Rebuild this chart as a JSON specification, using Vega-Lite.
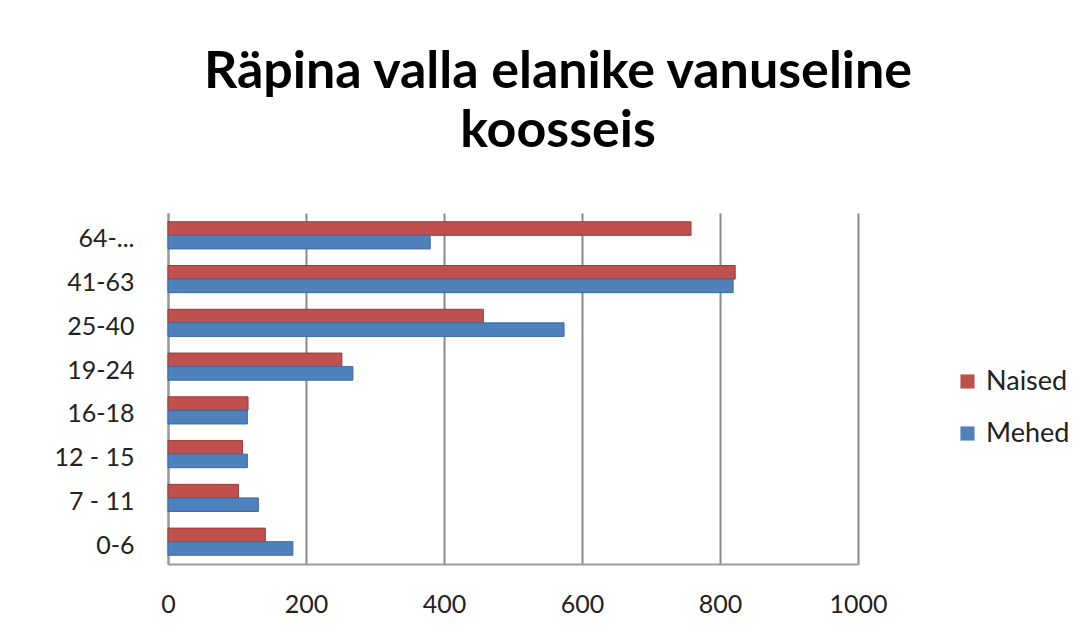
{
  "$schema": "https://vega.github.io/schema/vega-lite/v6.json",
  "autosize": "none",
  "width": 690,
  "height": 351,
  "padding": {"left": 168, "top": 213, "right": 229, "bottom": 73},
  "background": "white",
  "title": {
    "text": ["Räpina valla elanike vanuseline", "koosseis"],
    "font": "Lato",
    "fontSize": 52,
    "fontWeight": "bold",
    "color": "#000000",
    "lineHeight": 59,
    "anchor": "middle",
    "dx": 45,
    "offset": 55
  },
  "data": {
    "values": [
      {"vanus": "64-...", "sugu": "Naised", "arv": 758},
      {"vanus": "64-...", "sugu": "Mehed", "arv": 380},
      {"vanus": "41-63", "sugu": "Naised", "arv": 822},
      {"vanus": "41-63", "sugu": "Mehed", "arv": 819},
      {"vanus": "25-40", "sugu": "Naised", "arv": 457},
      {"vanus": "25-40", "sugu": "Mehed", "arv": 574},
      {"vanus": "19-24", "sugu": "Naised", "arv": 252},
      {"vanus": "19-24", "sugu": "Mehed", "arv": 268},
      {"vanus": "16-18", "sugu": "Naised", "arv": 116},
      {"vanus": "16-18", "sugu": "Mehed", "arv": 115},
      {"vanus": "12 - 15", "sugu": "Naised", "arv": 108},
      {"vanus": "12 - 15", "sugu": "Mehed", "arv": 115},
      {"vanus": "7 - 11", "sugu": "Naised", "arv": 102},
      {"vanus": "7 - 11", "sugu": "Mehed", "arv": 131},
      {"vanus": "0-6", "sugu": "Naised", "arv": 141},
      {"vanus": "0-6", "sugu": "Mehed", "arv": 181}
    ]
  },
  "mark": {"type": "bar", "strokeWidth": 1},
  "encoding": {
    "y": {
      "field": "vanus",
      "type": "nominal",
      "sort": ["64-...", "41-63", "25-40", "19-24", "16-18", "12 - 15", "7 - 11", "0-6"],
      "scale": {"paddingInner": 0.38, "paddingOuter": 0.2},
      "axis": {
        "title": null,
        "labelFont": "Lato",
        "labelFontSize": 25,
        "labelColor": "#222222",
        "labelPadding": 34,
        "labelOffset": 4,
        "ticks": false,
        "domainColor": "#9a9a9a",
        "domainWidth": 2,
        "grid": false
      }
    },
    "yOffset": {
      "field": "sugu",
      "type": "nominal",
      "scale": {"domain": ["Naised", "Mehed"]}
    },
    "x": {
      "field": "arv",
      "type": "quantitative",
      "scale": {"domain": [0, 1000]},
      "axis": {
        "title": null,
        "values": [0, 200, 400, 600, 800, 1000],
        "format": "d",
        "labelFont": "Lato",
        "labelFontSize": 25,
        "labelColor": "#222222",
        "labelPadding": 28,
        "labelFlush": false,
        "ticks": false,
        "domainColor": "#9a9a9a",
        "domainWidth": 2,
        "grid": true,
        "gridColor": "#8a8a8a",
        "gridWidth": 2
      }
    },
    "color": {
      "field": "sugu",
      "type": "nominal",
      "scale": {"domain": ["Naised", "Mehed"], "range": ["#C0504D", "#4F81BD"]},
      "legend": {
        "title": null,
        "orient": "none",
        "legendX": 786,
        "legendY": 155,
        "symbolType": "square",
        "symbolSize": 200,
        "symbolStrokeWidth": 0,
        "labelFont": "Lato",
        "labelFontSize": 27,
        "labelColor": "#222222",
        "rowPadding": 24,
        "labelOffset": 5
      }
    },
    "stroke": {
      "field": "sugu",
      "type": "nominal",
      "scale": {"domain": ["Naised", "Mehed"], "range": ["#9b3b38", "#3c6a9e"]},
      "legend": null
    }
  },
  "config": {
    "view": {"stroke": null}
  }
}
